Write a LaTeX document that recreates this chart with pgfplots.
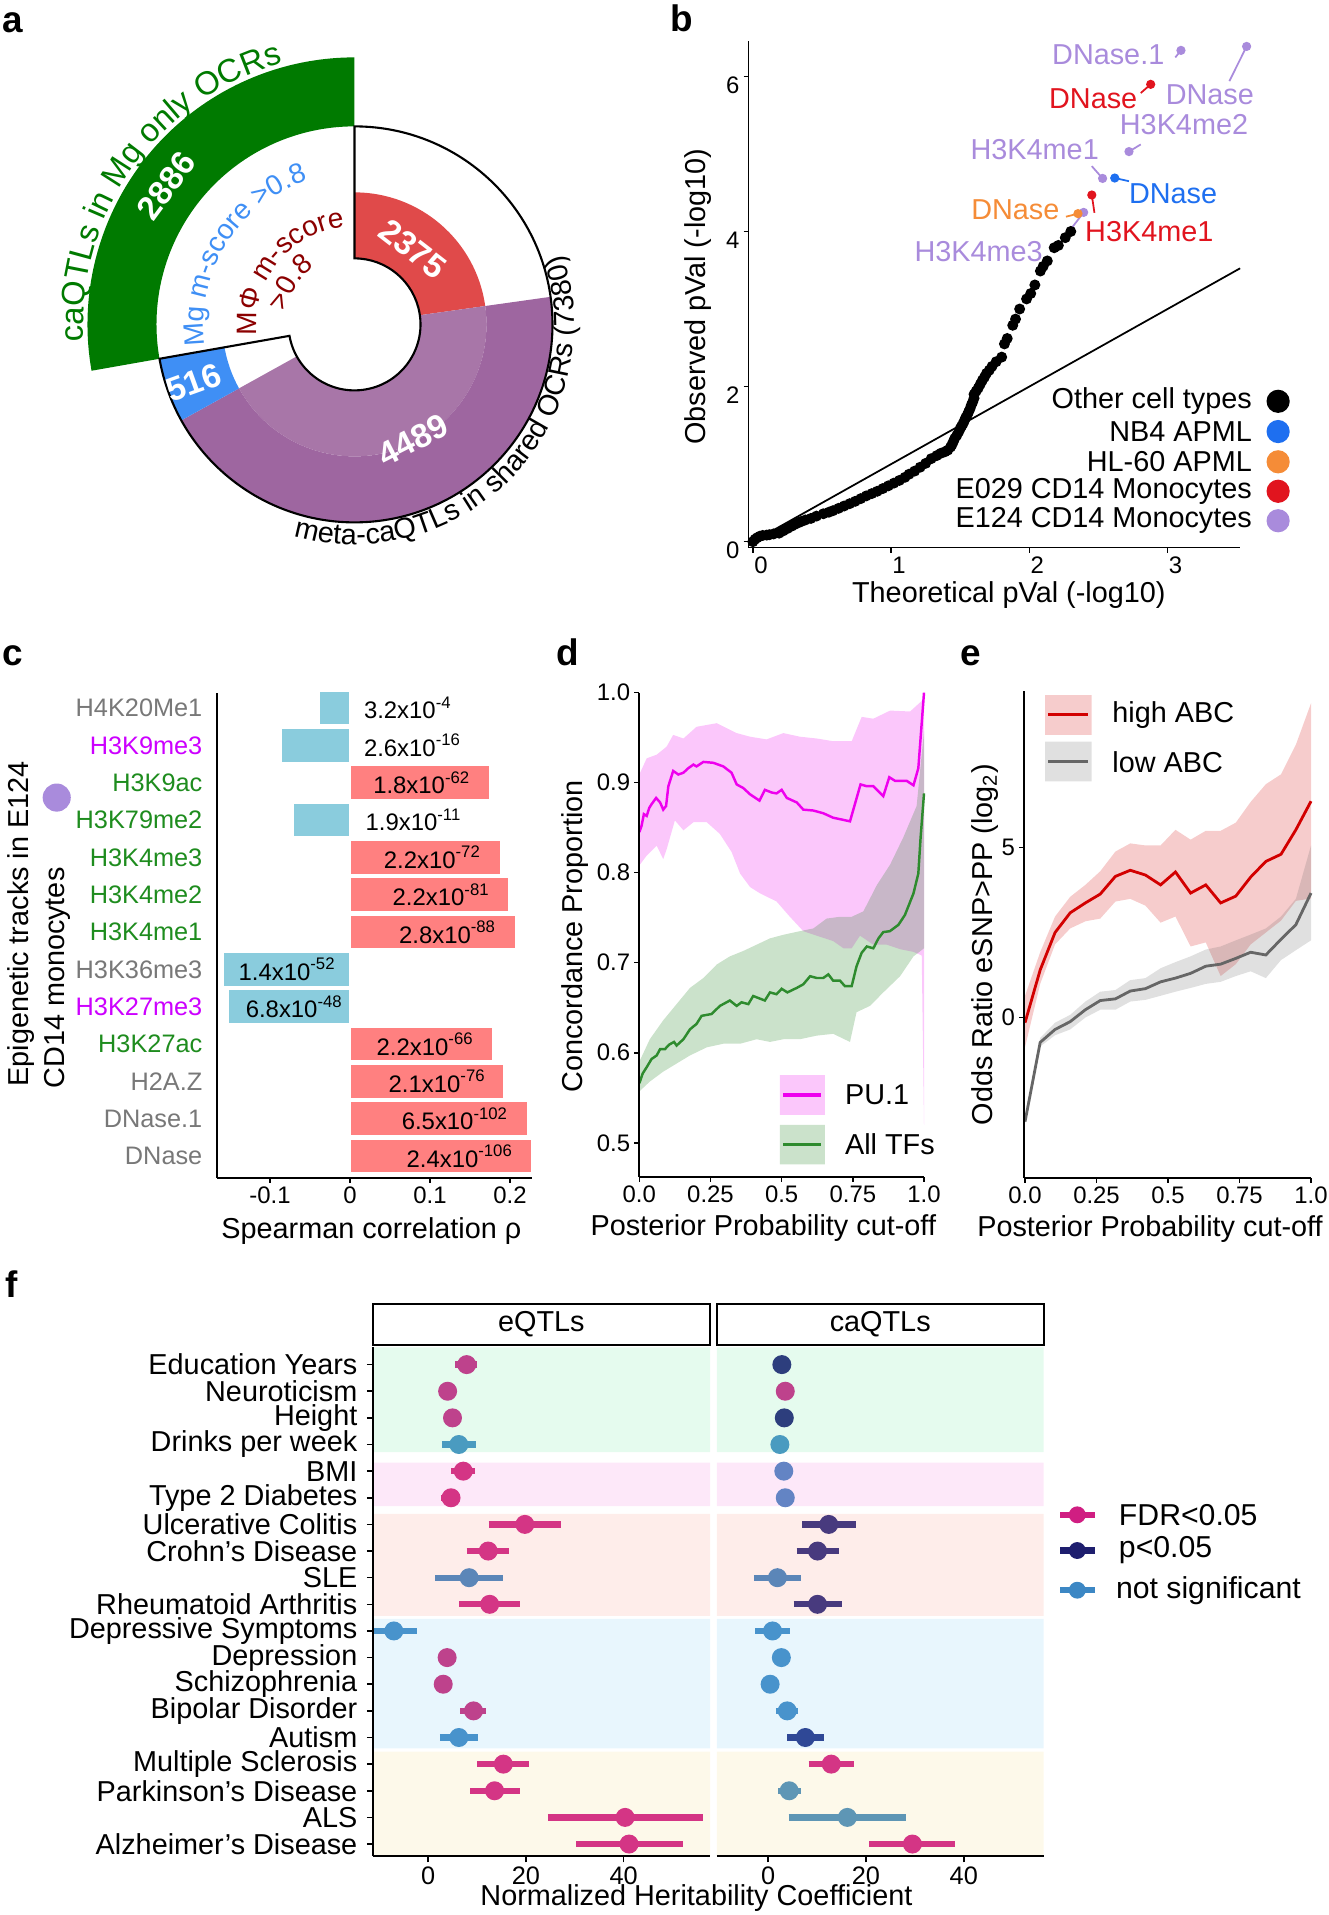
\documentclass[border=0pt]{standalone}
\usepackage{fontspec}
\setmainfont{Liberation Sans}
\usepackage{pgfplots}
\pgfplotsset{compat=1.18}
\usetikzlibrary{calc,decorations.text}

\definecolor{agreen}{RGB}{0,122,0}
\definecolor{ablue}{RGB}{63,143,245}
\definecolor{ared}{RGB}{224,74,74}
\definecolor{apurpleL}{RGB}{168,118,168}
\definecolor{apurpleD}{RGB}{158,102,160}
\definecolor{adarkred}{RGB}{139,0,0}
\definecolor{lav}{RGB}{169,139,220}
\definecolor{bblue}{RGB}{30,111,240}
\definecolor{borange}{RGB}{245,140,55}
\definecolor{bred}{RGB}{225,20,30}
\definecolor{cblue}{RGB}{138,204,221}
\definecolor{cred}{RGB}{255,128,128}
\definecolor{cgray}{RGB}{120,120,120}
\definecolor{cmag}{RGB}{204,0,255}
\definecolor{cgreen}{RGB}{30,140,30}
\definecolor{dpink}{RGB}{238,0,238}
\definecolor{dgreen}{RGB}{46,139,46}
\definecolor{ered}{RGB}{210,0,0}
\definecolor{egray}{RGB}{102,102,102}
\definecolor{fm}{RGB}{212,53,133}
\definecolor{fpm}{RGB}{190,66,140}
\definecolor{fnavy}{RGB}{45,62,125}
\definecolor{fnavy2}{RGB}{47,72,150}
\definecolor{fdp}{RGB}{72,58,126}
\definecolor{fb1}{RGB}{72,147,204}
\definecolor{fb2}{RGB}{91,134,184}
\definecolor{fb3}{RGB}{74,155,192}
\definecolor{fb4}{RGB}{99,132,196}
\definecolor{fb5}{RGB}{94,150,181}
\definecolor{bgG}{RGB}{229,251,238}
\definecolor{bgP}{RGB}{253,232,249}
\definecolor{bgS}{RGB}{254,237,234}
\definecolor{bgB}{RGB}{232,246,253}
\definecolor{bgY}{RGB}{253,249,234}
\definecolor{lgF}{RGB}{208,30,130}
\definecolor{lgP}{RGB}{30,30,110}
\definecolor{lgN}{RGB}{60,135,196}

\newcommand{\fsA}{\fontsize{8.2}{9.5}\selectfont}
\newcommand{\fsN}{\fontsize{9.5}{10}\selectfont\bfseries}
\newcommand{\fsL}{\fontsize{10.5}{12}\selectfont\bfseries}

\newcommand{\sector}[5]{\fill[#1] ($(C)+(#2:#5)$) arc[start angle=#2,end angle=#3,radius=#5] -- ($(C)+(#3:#4)$) arc[start angle=#3,end angle=#2,radius=#4] -- cycle;}
\newcommand{\fci}[5]{\addplot[#5, line width=1.8pt, mark=none] coordinates {(#2,#1) (#4,#1)};
 \addplot[#5, only marks, mark=*, mark size=2.5pt] coordinates {(#3,#1)};}
\newcommand{\fpt}[3]{\addplot[#3, only marks, mark=*, mark size=2.5pt] coordinates {(#2,#1)};}

\pgfplotsset{
 myax/.style={scale only axis, anchor=south west, clip=false, axis on top,
  axis x line*=bottom, axis y line*=left,
  axis line style={-, line width=0.5pt, black},
  tick align=outside, major tick length=0.05cm,
  tick style={black, line width=0.45pt},
  tick label style={font=\fontsize{6.8}{7.5}\selectfont, inner sep=1pt},
  /pgf/number format/assume math mode=true},
}

\begin{document}
\begin{tikzpicture}
\path[use as bounding box] (0,0) rectangle (13.28,19.15);

% ---------------- panel a ----------------
\begin{axis}[at={(0cm,13.15cm)}, anchor=south west, scale only axis, width=6.2cm, height=6cm,
 xmin=-354.5, xmax=265.5, ymin=-275.6, ymax=324.4, hide axis, clip=false]
\coordinate (C) at (axis cs:0,0);
\sector{ared}{90}{8}{0.66cm}{1.32cm}
\sector{apurpleL}{8}{-151}{0.66cm}{1.32cm}
\sector{apurpleD}{8}{-151}{1.32cm}{1.98cm}
\sector{ablue}{-151}{-170}{1.32cm}{1.98cm}
\sector{agreen}{-170}{-270}{1.98cm}{2.67cm}
\draw[black, line width=0.6pt] ($(C)+(90:1.98cm)$) arc[start angle=90,end angle=-170,radius=1.98cm] -- ($(C)+(-170:0.66cm)$) arc[start angle=-170,end angle=90,radius=0.66cm] -- cycle;
\path[decorate, decoration={text along path, text align=center, text color=agreen,
 text={|\fontsize{9.3}{10}\selectfont|caQTLs in Mg only OCRs}}]
 ($(C)+(189.5:2.71cm)$) arc[start angle=189.5, end angle=99.5, radius=2.71cm];
\path[decorate, decoration={text along path, text align=center, text color=ablue,
 text={|\fontsize{8}{9}\selectfont|Mg m-score >0.8}}]
 ($(C)+(193:1.51cm)$) arc[start angle=193, end angle=103, radius=1.51cm];
\path[decorate, decoration={text along path, text align=center, text color=adarkred,
 text={|\fontsize{8}{9}\selectfont|MΦ m-score}}]
 ($(C)+(201:0.98cm)$) arc[start angle=201, end angle=81, radius=0.98cm];
\path[decorate, decoration={text along path, text align=center, text color=adarkred,
 text={|\fontsize{8}{9}\selectfont|>0.8}}]
 ($(C)+(207:0.70cm)$) arc[start angle=207, end angle=87, radius=0.70cm];
\path[decorate, decoration={text along path, text align=center, text color=black,
 text={|\fontsize{8.2}{9}\selectfont|meta-caQTLs in shared OCRs (7380)}}]
 ($(C)+(-128.75:2.2cm)$) arc[start angle=-128.75, end angle=41.25, radius=2.2cm];
\node[rotate=53.6, text=white, font=\fsN] at ($(C)+(-1.885cm,1.388cm)$) {2886};
\node[rotate=-37.7, text=white, font=\fsN] at ($(C)+(0.585cm,0.756cm)$) {2375};
\node[rotate=19.9, text=white, font=\fsN] at ($(C)+(-1.608cm,-0.583cm)$) {516};
\node[rotate=27, text=white, font=\fsN] at ($(C)+(0.585cm,-1.156cm)$) {4489};
\end{axis}

% ---------------- panel b ----------------
\begin{axis}[myax, at={(7.486cm,13.674cm)}, width=4.915cm, height=5.061cm,
 xmin=-0.031, xmax=3.525, ymin=-0.076, ymax=6.45, xtick={0,1,2,3}, ytick={0,2,4,6},
 xticklabel style={xshift=0.08cm}, yticklabel style={yshift=-0.09cm}]
\addplot[black, line width=0.5pt, mark=none] coordinates {(0,0) (3.525,3.525)};
\addplot[only marks, mark=*, mark size=1.35pt, black] coordinates {
(0,0) (0.015,0.03) (0.03,0.05) (0.05,0.07) (0.07,0.08) (0.1,0.085) (0.12,0.09) (0.15,0.1) (0.19,0.11) (0.22,0.14) (0.25,0.17) (0.28,0.2) (0.30,0.22) (0.33,0.245) (0.35,0.26) (0.38,0.28) (0.42,0.30) (0.46,0.33) (0.51,0.36) (0.55,0.38) (0.58,0.40) (0.62,0.43) (0.66,0.46) (0.70,0.49) (0.74,0.52) (0.78,0.555) (0.82,0.59) (0.86,0.62) (0.90,0.65) (0.94,0.685) (0.98,0.72) (1.02,0.755) (1.06,0.79) (1.10,0.83) (1.13,0.87) (1.17,0.91) (1.21,0.96) (1.25,1.01) (1.29,1.07) (1.33,1.11) (1.36,1.14) (1.39,1.16) (1.41,1.18) (1.43,1.22) (1.44,1.25) (1.45,1.29) (1.46,1.33) (1.475,1.37) (1.49,1.42) (1.50,1.46) (1.51,1.49) (1.52,1.52) (1.53,1.56) (1.54,1.60) (1.55,1.63) (1.56,1.67) (1.57,1.71) (1.58,1.76) (1.59,1.80) (1.60,1.85) (1.60,1.90) (1.615,1.94) (1.63,1.98) (1.645,2.03) (1.66,2.08) (1.675,2.12) (1.69,2.17) (1.71,2.21) (1.73,2.26) (1.76,2.32) (1.80,2.38) (1.82,2.55) (1.84,2.62) (1.88,2.79) (1.90,2.87) (1.93,3.0) (1.98,3.13) (2.01,3.20) (2.04,3.31) (2.08,3.49) (2.10,3.55) (2.13,3.62) (2.18,3.79) (2.21,3.82) (2.26,3.92) (2.30,4.0)};
% connectors
\addplot[lav, line width=0.5pt] coordinates {(3.056,6.244) (3.097,6.335)};
\addplot[lav, line width=0.5pt] coordinates {(3.447,5.938) (3.572,6.386)};
\addplot[bred, line width=0.5pt] coordinates {(2.806,5.785) (2.878,5.897)};
\addplot[lav, line width=0.5pt] coordinates {(2.806,5.122) (2.721,5.03)};
\addplot[lav, line width=0.5pt] coordinates {(2.452,4.842) (2.53,4.684)};
\addplot[bblue, line width=0.5pt] coordinates {(2.721,4.648) (2.618,4.689)};
\addplot[bred, line width=0.5pt] coordinates {(2.471,4.241) (2.452,4.47)};
\addplot[borange, line width=0.5pt] coordinates {(2.265,4.19) (2.352,4.23)};
\addplot[lav, line width=0.5pt] coordinates {(2.211,3.823) (2.393,4.246)};
% highlighted points
\addplot[only marks, mark=*, mark size=1.1pt, lav] coordinates {(2.393,4.246) (2.53,4.684) (2.721,5.03) (3.097,6.335) (3.572,6.386)};
\addplot[only marks, mark=*, mark size=1.1pt, borange] coordinates {(2.352,4.23)};
\addplot[only marks, mark=*, mark size=1.1pt, bred] coordinates {(2.452,4.47) (2.878,5.897)};
\addplot[only marks, mark=*, mark size=1.1pt, bblue] coordinates {(2.618,4.689)};
% labels
\node[text=lav, font=\fsA] at (axis cs:2.571,6.284) {DNase.1};
\node[text=lav, font=\fsA] at (axis cs:3.306,5.76) {DNase};
\node[text=bred, font=\fsA] at (axis cs:2.462,5.71) {DNase};
\node[text=lav, font=\fsA] at (axis cs:3.119,5.377) {H3K4me2};
\node[text=lav, font=\fsA] at (axis cs:2.039,5.056) {H3K4me1};
\node[text=bblue, font=\fsA] at (axis cs:3.04,4.485) {DNase};
\node[text=bred, font=\fsA] at (axis cs:2.868,4.0) {H3K4me1};
\node[text=borange, font=\fsA] at (axis cs:1.899,4.281) {DNase};
\node[text=lav, font=\fsA] at (axis cs:1.633,3.736) {H3K4me3};
% legend
\addplot[only marks, mark=*, mark size=3.1pt, black] coordinates {(3.80,1.81)};
\addplot[only marks, mark=*, mark size=3.1pt, bblue] coordinates {(3.80,1.42)};
\addplot[only marks, mark=*, mark size=3.1pt, borange] coordinates {(3.80,1.03)};
\addplot[only marks, mark=*, mark size=3.1pt, bred] coordinates {(3.80,0.65)};
\addplot[only marks, mark=*, mark size=3.1pt, lav] coordinates {(3.80,0.27)};
\node[anchor=east, font=\fsA] at (axis cs:3.70,1.81) {Other cell types};
\node[anchor=east, font=\fsA] at (axis cs:3.70,1.42) {NB4 APML};
\node[anchor=east, font=\fsA] at (axis cs:3.70,1.03) {HL-60 APML};
\node[anchor=east, font=\fsA] at (axis cs:3.70,0.65) {E029 CD14 Monocytes};
\node[anchor=east, font=\fsA] at (axis cs:3.70,0.27) {E124 CD14 Monocytes};
\end{axis}

% ---------------- panel c ----------------
\begin{axis}[myax, at={(2.168cm,7.372cm)}, width=3.152cm, height=4.844cm,
 xmin=-0.1665, xmax=0.2275, ymin=0.42, ymax=13.39,
 xtick={-0.1,0,0.1,0.2}, xticklabels={-0.1,0,0.1,0.2},
 ytick={1,...,13}, ytick style={draw=none},
 yticklabel style={font=\fontsize{7.2}{8}\selectfont, inner sep=2.5pt},
 yticklabels={\textcolor{cgray}{DNase},\textcolor{cgray}{DNase.1},\textcolor{cgray}{H2A.Z},\textcolor{cgreen}{H3K27ac},\textcolor{cmag}{H3K27me3},\textcolor{cgray}{H3K36me3},\textcolor{cgreen}{H3K4me1},\textcolor{cgreen}{H3K4me2},\textcolor{cgreen}{H3K4me3},\textcolor{cgreen}{H3K79me2},\textcolor{cgreen}{H3K9ac},\textcolor{cmag}{H3K9me3},\textcolor{cgray}{H4K20Me1}}]
\addplot[xbar, bar width=0.9, bar shift=0pt, fill=cblue, draw=white, line width=0.3pt] coordinates {(-0.152,5) (-0.1587,6) (-0.0707,10) (-0.0858,12) (-0.0378,13)};
\addplot[xbar, bar width=0.9, bar shift=0pt, fill=cred, draw=white, line width=0.3pt] coordinates {(0.2267,1) (0.2213,2) (0.1916,3) (0.1787,4) (0.207,7) (0.1987,8) (0.1876,9) (0.174,11)};
\addplot[only marks, mark=*, mark size=3.8pt, lav] coordinates {(-0.3666,10.6)};
\begin{scope}[every node/.style={font=\fontsize{6.8}{7.5}\selectfont}]
\node[anchor=west] at (axis cs:0.002,13) {3.2x10\textsuperscript{-4}};
\node[anchor=west] at (axis cs:0.002,12) {2.6x10\textsuperscript{-16}};
\node[anchor=east] at (axis cs:0.1667,11) {1.8x10\textsuperscript{-62}};
\node[anchor=west] at (axis cs:0.004,10) {1.9x10\textsuperscript{-11}};
\node[anchor=east] at (axis cs:0.180,9) {2.2x10\textsuperscript{-72}};
\node[anchor=east] at (axis cs:0.191,8) {2.2x10\textsuperscript{-81}};
\node[anchor=east] at (axis cs:0.199,7) {2.8x10\textsuperscript{-88}};
\node[anchor=west] at (axis cs:-0.1547,6) {1.4x10\textsuperscript{-52}};
\node[anchor=west] at (axis cs:-0.1458,5) {6.8x10\textsuperscript{-48}};
\node[anchor=east] at (axis cs:0.171,4) {2.2x10\textsuperscript{-66}};
\node[anchor=east] at (axis cs:0.186,3) {2.1x10\textsuperscript{-76}};
\node[anchor=east] at (axis cs:0.214,2) {6.5x10\textsuperscript{-102}};
\node[anchor=east] at (axis cs:0.220,1) {2.4x10\textsuperscript{-106}};
\end{scope}
\end{axis}

% ---------------- panel d ----------------
\begin{axis}[myax, at={(6.393cm,7.38cm)}, width=2.847cm, height=4.844cm,
 xmin=0, xmax=1, ymin=0.462, ymax=1.0,
 xtick={0,0.25,0.5,0.75,1}, xticklabels={0.0,0.25,0.5,0.75,1.0},
 ytick={0.5,0.6,0.7,0.8,0.9,1.0}, yticklabels={0.5,0.6,0.7,0.8,0.9,1.0}]
\addplot[fill=dpink, fill opacity=0.22, draw=none] coordinates {
(0,0.909) (0.026,0.927) (0.061,0.931) (0.096,0.940) (0.119,0.953) (0.155,0.949) (0.201,0.962) (0.272,0.966) (0.342,0.955) (0.389,0.951) (0.447,0.948) (0.506,0.955) (0.564,0.951) (0.623,0.949) (0.681,0.946) (0.746,0.946) (0.781,0.973) (0.822,0.971) (0.881,0.980) (0.951,0.979) (1.0,0.993)
(1.0,0.52) (0.992,0.708) (0.963,0.712) (0.916,0.715) (0.869,0.72) (0.822,0.72) (0.775,0.73) (0.746,0.716) (0.717,0.716) (0.681,0.724) (0.623,0.730) (0.576,0.735) (0.529,0.751) (0.482,0.768) (0.424,0.777) (0.389,0.784) (0.354,0.799) (0.324,0.823) (0.283,0.843) (0.237,0.856) (0.190,0.856) (0.155,0.847) (0.125,0.858) (0.096,0.826) (0.084,0.815) (0.061,0.830) (0.026,0.819) (0,0.808) (0,0.909)};
\addplot[fill=dgreen, fill opacity=0.25, draw=none] coordinates {
(0,0.590) (0.037,0.615) (0.084,0.636) (0.131,0.654) (0.178,0.672) (0.225,0.683) (0.272,0.698) (0.318,0.707) (0.365,0.713) (0.412,0.720) (0.459,0.727) (0.506,0.731) (0.564,0.735) (0.611,0.738) (0.658,0.749) (0.705,0.751) (0.746,0.751) (0.787,0.757) (0.834,0.786) (0.881,0.809) (0.927,0.839) (0.974,0.874) (1.0,0.957)
(1.0,0.716) (0.963,0.707) (0.916,0.685) (0.857,0.667) (0.81,0.652) (0.763,0.645) (0.74,0.612) (0.681,0.621) (0.623,0.619) (0.564,0.615) (0.506,0.615) (0.459,0.612) (0.412,0.615) (0.354,0.610) (0.295,0.610) (0.237,0.606) (0.178,0.597) (0.131,0.588) (0.084,0.579) (0.037,0.568) (0,0.557) (0,0.590)};
\addplot[dpink, line width=0.7pt, mark=none] coordinates {
(0,0.845) (0.008,0.852) (0.016,0.865) (0.026,0.863) (0.035,0.872) (0.043,0.876) (0.059,0.883) (0.073,0.878) (0.084,0.870) (0.094,0.874) (0.102,0.896) (0.119,0.913) (0.137,0.909) (0.155,0.911) (0.172,0.916) (0.190,0.920) (0.201,0.918) (0.225,0.923) (0.260,0.922) (0.295,0.918) (0.324,0.911) (0.342,0.898) (0.365,0.894) (0.389,0.887) (0.422,0.880) (0.441,0.892) (0.465,0.889) (0.482,0.888) (0.500,0.892) (0.518,0.883) (0.553,0.878) (0.576,0.870) (0.611,0.869) (0.646,0.866) (0.681,0.861) (0.711,0.859) (0.740,0.857) (0.777,0.898) (0.799,0.896) (0.822,0.896) (0.857,0.885) (0.878,0.906) (0.898,0.902) (0.939,0.902) (0.963,0.897) (0.980,0.916) (1.0,1.0)};
\addplot[dgreen, line width=0.7pt, mark=none] coordinates {
(0,0.566) (0.012,0.577) (0.026,0.584) (0.043,0.593) (0.061,0.597) (0.073,0.604) (0.090,0.604) (0.105,0.609) (0.122,0.612) (0.131,0.608) (0.155,0.615) (0.178,0.626) (0.201,0.632) (0.219,0.641) (0.254,0.643) (0.283,0.652) (0.318,0.658) (0.342,0.652) (0.359,0.656) (0.383,0.654) (0.400,0.663) (0.441,0.658) (0.459,0.667) (0.482,0.665) (0.500,0.671) (0.520,0.667) (0.553,0.672) (0.576,0.676) (0.600,0.685) (0.623,0.683) (0.646,0.683) (0.664,0.687) (0.681,0.680) (0.705,0.680) (0.722,0.674) (0.746,0.674) (0.763,0.696) (0.781,0.711) (0.799,0.718) (0.822,0.716) (0.840,0.727) (0.857,0.734) (0.880,0.735) (0.910,0.742) (0.933,0.753) (0.963,0.777) (0.980,0.799) (0.988,0.839) (1.0,0.888)};
% legend
\addplot[fill=dpink, fill opacity=0.22, draw=none] coordinates {(0.494,0.575) (0.652,0.575) (0.652,0.531) (0.494,0.531) (0.494,0.575)};
\addplot[dpink, line width=0.9pt, mark=none] coordinates {(0.506,0.553) (0.637,0.553)};
\addplot[fill=dgreen, fill opacity=0.25, draw=none] coordinates {(0.494,0.520) (0.652,0.520) (0.652,0.476) (0.494,0.476) (0.494,0.520)};
\addplot[dgreen, line width=0.9pt, mark=none] coordinates {(0.506,0.498) (0.637,0.498)};
\node[anchor=west, font=\fsA] at (axis cs:0.679,0.553) {PU.1};
\node[anchor=west, font=\fsA] at (axis cs:0.679,0.498) {All TFs};
\end{axis}

% ---------------- panel e ----------------
\begin{axis}[myax, at={(10.24cm,7.372cm)}, width=2.87cm, height=4.864cm,
 xmin=-0.0035, xmax=1, ymin=-4.71, ymax=9.59,
 xtick={0,0.25,0.5,0.75,1}, xticklabels={0.0,0.25,0.5,0.75,1.0},
 ytick={0,5}, yticklabels={0,5}]
\addplot[fill=ered, fill opacity=0.2, draw=none] coordinates {
(0,0.64) (0.053,1.92) (0.105,2.97) (0.158,3.55) (0.211,3.90) (0.263,4.30) (0.316,4.88) (0.368,5.12) (0.421,5.06) (0.474,5.06) (0.526,5.52) (0.579,5.23) (0.632,5.49) (0.684,5.49) (0.737,5.73) (0.789,6.34) (0.842,6.86) (0.895,7.15) (0.947,8.02) (1.0,9.24)
(1.0,3.5) (0.947,3.43) (0.895,2.85) (0.842,2.50) (0.789,2.15) (0.737,1.57) (0.684,1.22) (0.632,2.21) (0.579,2.09) (0.526,2.97) (0.474,2.79) (0.421,3.29) (0.368,3.49) (0.316,3.41) (0.263,2.91) (0.211,2.83) (0.158,2.62) (0.105,2.15) (0.053,0.99) (0,-0.87) (0,0.64)};
\addplot[fill=egray, fill opacity=0.2, draw=none] coordinates {
(0,-3.0) (0.053,-0.6) (0.105,-0.15) (0.158,0.08) (0.211,0.47) (0.263,0.76) (0.316,0.81) (0.368,1.10) (0.421,1.16) (0.474,1.45) (0.526,1.63) (0.579,1.80) (0.632,2.0) (0.684,2.09) (0.737,2.27) (0.789,2.44) (0.842,2.62) (0.895,2.97) (0.947,3.49) (1.0,5.06)
(1.0,2.27) (0.947,1.98) (0.895,1.69) (0.842,1.16) (0.789,1.36) (0.737,1.22) (0.684,1.05) (0.632,0.99) (0.579,0.87) (0.526,0.76) (0.474,0.64) (0.421,0.52) (0.368,0.47) (0.316,0.23) (0.263,0.23) (0.211,0.0) (0.158,-0.35) (0.105,-0.52) (0.053,-0.85) (0,-3.12) (0,-3.0)};
\addplot[ered, line width=0.8pt, mark=none] coordinates {
(0,-0.15) (0.053,1.40) (0.105,2.50) (0.158,3.08) (0.211,3.37) (0.263,3.63) (0.316,4.15) (0.368,4.33) (0.421,4.19) (0.474,3.90) (0.526,4.28) (0.579,3.66) (0.632,3.90) (0.684,3.37) (0.737,3.57) (0.789,4.13) (0.842,4.59) (0.895,4.80) (0.947,5.52) (1.0,6.36)};
\addplot[egray, line width=0.8pt, mark=none] coordinates {
(0,-3.06) (0.053,-0.73) (0.105,-0.35) (0.158,-0.12) (0.211,0.23) (0.263,0.50) (0.316,0.55) (0.368,0.78) (0.421,0.85) (0.474,1.05) (0.526,1.16) (0.579,1.30) (0.632,1.51) (0.684,1.57) (0.737,1.74) (0.789,1.92) (0.842,1.84) (0.895,2.30) (0.947,2.73) (1.0,3.66)};
% legend
\addplot[fill=ered, fill opacity=0.2, draw=none] coordinates {(0.07,9.48) (0.233,9.48) (0.233,8.31) (0.07,8.31) (0.07,9.48)};
\addplot[ered, line width=0.9pt, mark=none] coordinates {(0.082,8.9) (0.221,8.9)};
\addplot[fill=egray, fill opacity=0.2, draw=none] coordinates {(0.07,8.11) (0.233,8.11) (0.233,6.94) (0.07,6.94) (0.07,8.11)};
\addplot[egray, line width=0.9pt, mark=none] coordinates {(0.082,7.52) (0.221,7.52)};
\node[anchor=west, font=\fsA] at (axis cs:0.262,8.9) {high ABC};
\node[anchor=west, font=\fsA] at (axis cs:0.262,7.52) {low ABC};
\end{axis}

% ---------------- panel f: eQTLs ----------------
\begin{axis}[myax, at={(3.728cm,0.587cm)}, width=3.372cm, height=5.09cm,
 xmin=-11.3, xmax=57.66, ymin=0.54, ymax=19.65, xtick={0,20,40}, xticklabels={0,20,40},
 major tick length=0.06cm, ytick={1,...,19},
 xticklabel style={font=\fontsize{7.2}{8}\selectfont},
 yticklabel style={font=\fsA, inner sep=2.5pt},
 yticklabels={Alzheimer’s Disease,ALS,Parkinson’s Disease,Multiple Sclerosis,Autism,Bipolar Disorder,Schizophrenia,Depression,Depressive Symptoms,Rheumatoid Arthritis,SLE,Crohn’s Disease,Ulcerative Colitis,Type 2 Diabetes,BMI,Drinks per week,Height,Neuroticism,Education Years}]
\addplot[fill=bgG, draw=none] coordinates {(-11.3,15.71) (57.66,15.71) (57.66,19.65) (-11.3,19.65) (-11.3,15.71)};
\addplot[fill=bgP, draw=none] coordinates {(-11.3,13.69) (57.66,13.69) (57.66,15.32) (-11.3,15.32) (-11.3,13.69)};
\addplot[fill=bgS, draw=none] coordinates {(-11.3,9.57) (57.66,9.57) (57.66,13.4) (-11.3,13.4) (-11.3,9.57)};
\addplot[fill=bgB, draw=none] coordinates {(-11.3,4.59) (57.66,4.59) (57.66,9.45) (-11.3,9.45) (-11.3,4.59)};
\addplot[fill=bgY, draw=none] coordinates {(-11.3,0.54) (57.66,0.54) (57.66,4.47) (-11.3,4.47) (-11.3,0.54)};
\fci{19}{5.6}{7.9}{10.1}{fpm}
\fpt{18}{4.0}{fpm}
\fpt{17}{5.0}{fpm}
\fci{16}{2.8}{6.3}{9.8}{fb3}
\fci{15}{4.7}{7.2}{9.5}{fm}
\fci{14}{2.6}{4.7}{6.5}{fm}
\fci{13}{12.4}{19.8}{27.2}{fm}
\fci{12}{7.9}{12.3}{16.5}{fm}
\fci{11}{1.5}{8.4}{15.4}{fb2}
\fci{10}{6.4}{12.6}{18.8}{fm}
\fci{9}{-11.3}{-7.0}{-2.3}{fb1}
\fpt{8}{3.9}{fpm}
\fpt{7}{3.1}{fpm}
\fci{6}{6.6}{9.3}{11.9}{fpm}
\fci{5}{2.4}{6.3}{10.2}{fb1}
\fci{4}{10.1}{15.4}{20.7}{fm}
\fci{3}{8.6}{13.6}{18.7}{fm}
\fci{2}{24.5}{40.3}{56.3}{fm}
\fci{1}{30.3}{41.1}{52.1}{fm}
\draw[black, line width=0.6pt, fill=white] (rel axis cs:0,1.004) rectangle (rel axis cs:1,1.0857);
\node[font=\fsA] at (rel axis cs:0.5,1.045) {eQTLs};
\end{axis}

% ---------------- panel f: caQTLs ----------------
\begin{axis}[myax, axis y line=none, at={(7.168cm,0.587cm)}, width=3.268cm, height=5.09cm,
 xmin=-10.5, xmax=56.33, ymin=0.54, ymax=19.65, xtick={0,20,40}, xticklabels={0,20,40},
 xticklabel style={font=\fontsize{7.2}{8}\selectfont},
 major tick length=0.06cm, ytick=\empty]
\addplot[fill=bgG, draw=none] coordinates {(-10.5,15.71) (56.33,15.71) (56.33,19.65) (-10.5,19.65) (-10.5,15.71)};
\addplot[fill=bgP, draw=none] coordinates {(-10.5,13.69) (56.33,13.69) (56.33,15.32) (-10.5,15.32) (-10.5,13.69)};
\addplot[fill=bgS, draw=none] coordinates {(-10.5,9.57) (56.33,9.57) (56.33,13.4) (-10.5,13.4) (-10.5,9.57)};
\addplot[fill=bgB, draw=none] coordinates {(-10.5,4.59) (56.33,4.59) (56.33,9.45) (-10.5,9.45) (-10.5,4.59)};
\addplot[fill=bgY, draw=none] coordinates {(-10.5,0.54) (56.33,0.54) (56.33,4.47) (-10.5,4.47) (-10.5,0.54)};
\fpt{19}{2.8}{fnavy}
\fpt{18}{3.5}{fpm}
\fpt{17}{3.3}{fnavy}
\fpt{16}{2.4}{fb3}
\fpt{15}{3.2}{fb4}
\fpt{14}{3.5}{fb4}
\fci{13}{7.0}{12.4}{17.9}{fdp}
\fci{12}{5.8}{10.1}{14.5}{fdp}
\fci{11}{-2.9}{1.9}{6.8}{fb2}
\fci{10}{5.2}{10.1}{15.2}{fdp}
\fci{9}{-2.6}{0.9}{4.5}{fb1}
\fpt{8}{2.7}{fb1}
\fpt{7}{0.4}{fb1}
\fci{6}{1.6}{3.9}{6.1}{fb1}
\fci{5}{3.9}{7.6}{11.4}{fnavy2}
\fci{4}{8.3}{12.9}{17.6}{fm}
\fci{3}{2.1}{4.3}{6.7}{fb5}
\fci{2}{4.2}{16.2}{28.1}{fb5}
\fci{1}{20.7}{29.5}{38.3}{fm}
\draw[black, line width=0.6pt, fill=white] (rel axis cs:0,1.004) rectangle (rel axis cs:1,1.0857);
\node[font=\fsA] at (rel axis cs:0.5,1.045) {caQTLs};
% legend
\addplot[lgF, line width=1.8pt, mark=none] coordinates {(59.77,13.36) (66.74,13.36)};
\addplot[lgF, only marks, mark=*, mark size=2.2pt] coordinates {(63.22,13.36)};
\addplot[lgP, line width=1.8pt, mark=none] coordinates {(59.77,12.02) (66.74,12.02)};
\addplot[lgP, only marks, mark=*, mark size=2.2pt] coordinates {(63.22,12.02)};
\addplot[lgN, line width=1.8pt, mark=none] coordinates {(59.77,10.53) (66.74,10.53)};
\addplot[lgN, only marks, mark=*, mark size=2.2pt] coordinates {(63.22,10.53)};
\node[anchor=west, font=\fontsize{8.6}{9.5}\selectfont] at (axis cs:69.2,13.36) {FDR<0.05};
\node[anchor=west, font=\fontsize{8.6}{9.5}\selectfont] at (axis cs:69.2,12.02) {p<0.05};
\node[anchor=west, font=\fontsize{8.6}{9.5}\selectfont] at (axis cs:68.6,10.53) {not significant};
\end{axis}

% ---------------- titles and letters ----------------
\node[rotate=90, font=\fsA] at (6.976,16.184) {Observed pVal (-log10)};
\node[font=\fsA] at (10.088,13.20) {Theoretical pVal (-log10)};
\node[rotate=90, anchor=west, font=\fsA] at (0.214,8.16) {Epigenetic tracks in E124};
\node[rotate=90, anchor=west, font=\fsA] at (0.571,8.14) {CD14 monocytes};
\node[font=\fsA] at (3.714,6.84) {Spearman correlation ρ};
\node[rotate=90, font=\fsA] at (5.75,9.784) {Concordance Proportion};
\node[font=\fsA] at (7.633,6.87) {Posterior Probability cut-off};
\node[rotate=90, font=\fsA] at (9.85,9.705) {Odds Ratio eSNP>PP (log\textsubscript{2})};
\node[font=\fsA] at (11.5,6.86) {Posterior Probability cut-off};
\node[font=\fsA] at (6.964,0.17) {Normalized Heritability Coefficient};
\node[anchor=base west, font=\fsL, inner sep=0pt] at (0.02,18.825) {a};
\node[anchor=base west, font=\fsL, inner sep=0pt] at (6.695,18.834) {b};
\node[anchor=base west, font=\fsL, inner sep=0pt] at (0.02,12.493) {c};
\node[anchor=base west, font=\fsL, inner sep=0pt] at (5.56,12.49) {d};
\node[anchor=base west, font=\fsL, inner sep=0pt] at (9.60,12.493) {e};
\node[anchor=base west, font=\fsL, inner sep=0pt] at (0.046,6.17) {f};
\end{tikzpicture}
\end{document}
